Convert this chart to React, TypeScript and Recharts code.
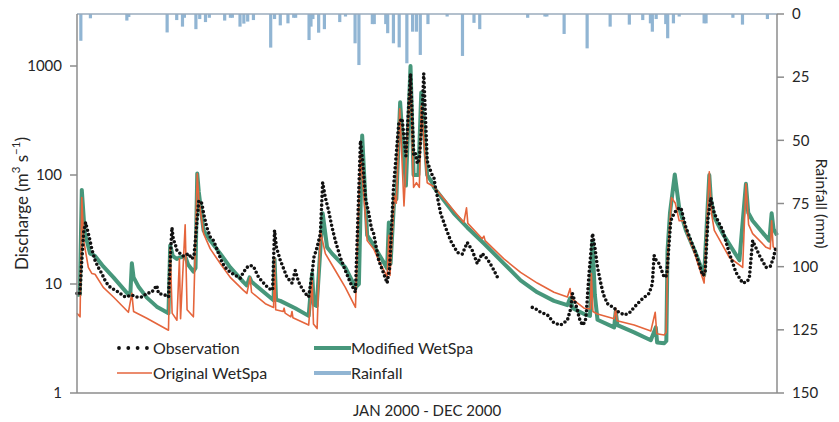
import React from 'react';
import { ComposedChart, Line, Bar, XAxis, YAxis, ReferenceLine } from 'recharts';

// Rainfall (mm) by day of year 2000
const rainDays = [2, 7, 26, 27, 47, 52, 55, 56, 62, 64, 67, 69, 77, 80, 81, 85, 87, 89, 92, 101, 103, 106, 110, 113, 114, 121, 122, 123, 126, 129, 137, 140, 145, 147, 154, 155, 161, 162, 165, 168, 172, 175, 177, 179, 183, 193, 201, 207, 210, 235, 244, 245, 254, 266, 278, 288, 295, 299, 300, 302, 307, 308, 311, 314, 327, 328, 342, 347, 360];
const rainMm = [10.6, 1.7, 2.6, 1.2, 7.3, 2.4, 5, 1.5, 6, 2, 3.2, 1.5, 2.6, 1.5, 1.5, 5, 3.8, 3, 2.4, 13.3, 2, 4.5, 3.7, 1.5, 1.5, 10.3, 5, 2, 7.4, 6, 3.2, 1, 11.6, 20.2, 4, 4, 4, 7.6, 11.6, 13.2, 19.5, 7, 7, 16.2, 4, 1, 16.6, 3.5, 6, 1.5, 1, 1, 7.9, 13.6, 5, 4.2, 2.4, 3.7, 7, 2, 4, 9.6, 3.7, 1, 3.7, 3.7, 1.5, 4.2, 2];

// Modified WetSpa discharge (m3/s)
const modDays = [0, 1.5, 2.5, 4, 6.8, 8.5, 9.5, 13.7, 19, 26.8, 27.8, 28.6, 29.5, 32, 36.4, 41.6, 47.7, 48.6, 50, 52, 53.4, 56.4, 58, 60.7, 61.8, 62.7, 63.5, 66, 69.5, 74.7, 79.9, 86.8, 88.6, 90, 91, 102.5, 103, 103.8, 106, 113.8, 120.8, 122.6, 123.5, 125, 128.1, 130.4, 133, 139.9, 145.2, 147, 148.7, 151.3, 154.7, 159.9, 161.7, 162.6, 163.5, 165.5, 166.5, 168.5, 169.5, 171.5, 173.9, 175.5, 178, 179.5, 182.6, 185.2, 186.1, 191.5, 196.5, 203.5, 212.2, 222.6, 231.3, 240, 248.7, 255.7, 257.1, 258.5, 264.4, 267.5, 268.8, 270, 271.4, 280.1, 280.9, 281.8, 290.5, 299.2, 301.8, 302.5, 306.2, 307.3, 307.9, 309.2, 311.7, 314, 317.5, 322.7, 327, 329.7, 330.5, 332.3, 336.7, 345.4, 348.8, 350, 352.3, 361, 362.2, 363.2, 365];
const modQ = [7.9, 8, 73, 30, 19, 18.5, 18, 14.5, 11.5, 8, 8, 15.5, 11.5, 9.5, 7.5, 6.2, 5.4, 22.6, 18, 17, 17.5, 18, 15, 13, 14, 103, 70, 31, 25, 19, 14.2, 10.4, 9.7, 11.5, 10.5, 7.1, 17, 7.2, 7.0, 6.0, 5.1, 12.5, 6.5, 6.3, 44.5, 21.7, 19, 14.2, 9.3, 10, 230, 28, 22.6, 15.8, 13.9, 36.7, 15.4, 65, 60, 464, 250, 80, 1000, 100, 100, 570, 100, 85, 77, 58, 44.5, 33, 23.5, 15.4, 10.8, 8.4, 7.0, 6.4, 7.4, 6.0, 5.3, 5.1, 25, 8, 4.7, 4.0, 5.6, 4.2, 3.6, 3.05, 4.0, 2.9, 2.86, 3.0, 20, 45, 101, 50, 31, 19, 12, 100, 60, 41, 29, 16.5, 83, 45, 38, 25, 44.5, 32, 28];

// Original WetSpa discharge (m3/s)
const origDays = [0, 1.6, 2.5, 3.5, 5.9, 7.7, 9.4, 13.7, 19, 26.8, 28.6, 29.5, 36.4, 47.7, 48.6, 49.6, 52.1, 53.4, 54, 56.4, 57.4, 60.7, 62.7, 63.5, 66, 69.5, 74.7, 79.9, 86.8, 88.6, 90.3, 91, 98.2, 102.5, 103, 103.6, 107.5, 108, 108.5, 111.5, 112.1, 112.6, 120.8, 122.6, 123.3, 125.2, 126.9, 128, 129.5, 134.7, 139.9, 145.2, 147.8, 150.5, 151.3, 154.7, 157.3, 160.8, 161.7, 162.6, 163.2, 165.5, 166.5, 168.3, 170.5, 173.9, 175.5, 177, 178.5, 179.5, 182.6, 186.1, 196.5, 201.7, 203.1, 203.8, 211.3, 212.2, 212.8, 222.6, 231.3, 240, 248.7, 255.7, 257.1, 257.8, 264.4, 267.7, 268.2, 269, 271.4, 280.1, 280.9, 281.6, 290.5, 299.2, 301.5, 302.3, 306.2, 307.2, 308, 310, 312, 314, 316.1, 318.7, 321, 324.4, 327, 329.7, 330.8, 332.3, 340.2, 347.1, 348.8, 350.2, 352.3, 359.3, 361.5, 362.2, 363, 365];
const origQ = [5.4, 5.0, 62, 25, 14.2, 12.5, 12.3, 9.3, 7.6, 5.5, 8.2, 5.6, 4.85, 3.77, 21, 5.4, 4.65, 17, 4.8, 35, 5.8, 5.0, 103, 60, 29, 21, 15.4, 11.5, 8.75, 8.2, 11.5, 8.4, 6.6, 6.1, 17.5, 5.8, 5.6, 6.0, 5.4, 5.0, 5.6, 4.9, 4.2, 10.8, 4.3, 3.9, 31, 25, 19, 13.3, 9.3, 6.1, 155, 40, 25, 21, 16.5, 12.5, 11.5, 28, 12, 65, 55, 405, 52, 810, 77, 85, 77, 430, 85, 78, 47, 36.7, 50, 36, 26, 27.5, 25, 17, 12.8, 10.2, 8.4, 7.6, 9.1, 7.4, 6.0, 5.9, 12.5, 5.6, 5.3, 4.8, 6.0, 4.6, 4.2, 3.7, 5.5, 3.5, 3.4, 3.6, 18, 62, 55, 38, 38, 27, 21.7, 14.2, 10.2, 107, 45, 31, 17.5, 14.2, 83, 35, 29, 21.7, 21, 38, 22, 20];

// Observation (m3/s): two recorded periods with a gap between
const obsDaysA = [0, 1.5, 2.5, 3.5, 4.5, 5.9, 6.8, 7.7, 9.4, 11.1, 12.9, 14.6, 16.3, 18.1, 20, 22.5, 25.1, 28.6, 31.2, 34, 36.4, 39, 41.6, 42.5, 46, 47.7, 48.6, 49.5, 50.3, 51, 52.1, 53.8, 55.5, 58.1, 59.9, 61, 62.7, 63.5, 65.1, 66, 67.7, 69.5, 71.2, 72.9, 75.6, 77.3, 79.9, 82.5, 85.1, 86.8, 88.6, 90.3, 92, 94.7, 97.3, 99.9, 102, 103, 104, 106, 107.7, 109.5, 112.1, 113.8, 115.5, 117.3, 119, 120.8, 122.6, 123.5, 125.2, 126.9, 128.1, 129.5, 131.2, 133, 134.7, 137.3, 139.9, 142.6, 145.2, 147.8, 149, 150.5, 152.1, 153.5, 154.7, 157.3, 159.9, 161.7, 163, 165, 167.8, 169.5, 171.5, 173.9, 175.6, 176.5, 177.5, 178.5, 179.8, 180.8, 182.6, 183.4, 184.3, 185.2, 186.1, 186.9, 188, 189.6, 192.2, 194.8, 198.3, 200.9, 203.5, 206.1, 208.7, 211.3, 213.9, 216.6, 219.5];
const obsQA = [8.2, 8.0, 16.5, 30, 36.7, 29, 25, 21, 16.5, 14.2, 12.5, 10.8, 9.7, 9.1, 8.8, 8.2, 7.6, 7.9, 7.6, 7.6, 8.2, 8.4, 9.7, 8.2, 7.9, 7.6, 16.5, 33, 25, 24, 20.3, 19, 18, 19, 17, 18, 40, 58, 55, 44.5, 33, 27, 25, 21, 15.8, 14.2, 12.8, 12, 11.3, 12.8, 14.2, 14.8, 14.5, 11.5, 10.2, 9.1, 8.8, 31, 21.7, 16.5, 13.9, 11.5, 10.2, 13.3, 10.5, 9.1, 8.2, 7.6, 12.5, 17.5, 21.7, 29, 85, 62, 47, 33, 25, 17.5, 13.3, 10.2, 8.4, 206, 130, 60, 45, 32.5, 29, 16.5, 12.5, 10.2, 14, 75, 300, 330, 150, 850, 150, 157, 127, 140, 300, 850, 135, 122, 110, 100, 95, 77, 62, 44.5, 33, 25, 19.5, 18.8, 24, 20.3, 15.4, 19, 17, 14.2, 11.3];
const obsDaysB = [237.4, 240, 241.8, 245.3, 248.7, 252.2, 255.7, 257.5, 258.3, 259.5, 260.9, 262, 263.5, 265, 265.6, 267, 268.8, 270, 271.4, 273.1, 274.5, 276.6, 280.1, 282, 285.3, 287.9, 290.5, 294, 298.3, 300, 300.9, 302, 303.5, 306.2, 307.5, 309.6, 311.5, 313.2, 314.9, 317.5, 322.7, 326.2, 327.5, 329, 330.5, 332.3, 336.7, 340.2, 343.6, 347.1, 349.5, 350.6, 352.3, 355.8, 359.3, 361.5, 363, 364.5];
const obsQB = [6.1, 5.8, 5.5, 5.2, 4.4, 4.2, 4.65, 6, 8.2, 7, 5.75, 4.8, 4.2, 4.5, 5.5, 12.5, 29, 22, 14.2, 10.2, 8, 6.6, 6, 5.6, 5.2, 5.4, 6.1, 7.1, 8.2, 10, 18.3, 16.5, 15.4, 11.5, 12, 38, 45, 49, 50, 33, 19, 12, 12.5, 40, 62, 44.5, 31, 19, 12.8, 10.2, 10.5, 11.5, 25, 18.3, 14.2, 14.5, 17, 22];

const qTicks = [1, 10, 100, 1000];
const rainTicks = [0, 25, 50, 75, 100, 125, 150];

type Row = { day: number; rain?: number; mod?: number; orig?: number; obsA?: number; obsB?: number };

function buildRows(): Row[] {
  const map = new Map<number, Row>();
  const put = (days: number[], vals: number[], key: keyof Row) => {
    days.forEach((d, i) => {
      let r = map.get(d);
      if (!r) {
        r = { day: d };
        map.set(d, r);
      }
      (r as any)[key] = vals[i];
    });
  };
  put(rainDays, rainMm, 'rain');
  put(modDays, modQ, 'mod');
  put(origDays, origQ, 'orig');
  put(obsDaysA, obsQA, 'obsA');
  put(obsDaysB, obsQB, 'obsB');
  return Array.from(map.values()).sort((a, b) => a.day - b.day);
}

const rows = buildRows();

const FONT = 'Lato, "Open Sans", sans-serif';
const GREEN = '#47977b';
const ORANGE = '#e5653c';
const BLUE = '#91b5d3';
const AXIS = '#8c8c8c';
const TEXT = '#262626';

// daily rainfall bar, fixed width centred on the day
const RainBar = (props: any) => {
  const { x, y, width, height, fill } = props;
  if (x == null || y == null || !height) return null;
  const cx = x + (width || 0) / 2;
  const h = Math.abs(height);
  const top = height < 0 ? y + height : y;
  return <rect x={cx - 1.6} y={top} width={3.2} height={h} fill={fill} />;
};

const DischargeLabel = (props: any) => {
  const vb = props.viewBox || {};
  const cx = (vb.x || 0) + 13;
  const cy = (vb.y || 0) + (vb.height || 0) / 2;
  return (
    <text x={cx} y={cy} transform={`rotate(-90, ${cx}, ${cy})`} textAnchor="middle" dominantBaseline="central" fill={TEXT} fontSize={17} fontFamily={FONT}>
      Discharge (m
      <tspan fontSize={11.5} dy={-6}>3</tspan>
      <tspan dy={6}> s</tspan>
      <tspan fontSize={11.5} dy={-6}>−1</tspan>
      <tspan dy={6}>)</tspan>
    </text>
  );
};

const legendText: React.CSSProperties = { fontFamily: FONT, fontSize: 16, color: TEXT, position: 'absolute', lineHeight: '18px', whiteSpace: 'nowrap' };

function LegendBox() {
  return (
    <div style={{ position: 'absolute', left: 0, top: 0, pointerEvents: 'none' }}>
      <svg style={{ position: 'absolute', left: 108, top: 334 }} width={40} height={12}>
        {[0, 1, 2, 3].map((i) => (
          <circle key={i} cx={3 + i * 9.3} cy={6} r={1.9} fill="#111" />
        ))}
      </svg>
      <div style={{ ...legendText, left: 145, top: 331 }}>Observation</div>
      <svg style={{ position: 'absolute', left: 109, top: 359 }} width={36} height={12}>
        <line x1={0} y1={6} x2={35} y2={6} stroke={ORANGE} strokeWidth={1.6} />
      </svg>
      <div style={{ ...legendText, left: 145, top: 356 }}>Original WetSpa</div>
      <svg style={{ position: 'absolute', left: 306, top: 334 }} width={38} height={12}>
        <line x1={0} y1={6} x2={37} y2={6} stroke={GREEN} strokeWidth={4} />
      </svg>
      <div style={{ ...legendText, left: 343, top: 331 }}>Modified WetSpa</div>
      <svg style={{ position: 'absolute', left: 306, top: 359 }} width={38} height={12}>
        <line x1={0} y1={6} x2={37} y2={6} stroke={BLUE} strokeWidth={4} />
      </svg>
      <div style={{ ...legendText, left: 343, top: 356 }}>Rainfall</div>
    </div>
  );
}

export default function App() {
  return (
    <div style={{ position: 'relative', width: 823, height: 414, background: '#fff' }}>
      <style>{`.recharts-surface { overflow: visible; }`}</style>
      <ComposedChart width={823} height={414} data={rows} margin={{ top: 6, right: 0, bottom: 0, left: 0 }}>
        <XAxis
          dataKey="day"
          type="number"
          domain={[0, 365]}
          tick={false}
          tickLine={false}
          axisLine={{ stroke: AXIS, strokeWidth: 1.5 }}
          height={29}
          label={{ value: 'JAN 2000 - DEC 2000', position: 'insideBottom', offset: 6, fill: TEXT, fontSize: 15, fontFamily: FONT }}
        />
        <YAxis
          yAxisId="q"
          scale="log"
          domain={[1, 3000]}
          allowDataOverflow
          ticks={qTicks}
          interval={0}
          width={69}
          tickSize={7}
          tickMargin={8}
          axisLine={{ stroke: AXIS, strokeWidth: 1.5 }}
          tickLine={{ stroke: AXIS, strokeWidth: 1.5 }}
          tick={{ fill: TEXT, fontSize: 15, fontFamily: FONT }}
          label={<DischargeLabel />}
        />
        <YAxis
          yAxisId="rain"
          orientation="right"
          domain={[0, 150]}
          reversed
          ticks={rainTicks}
          interval={0}
          width={54}
          tickSize={7}
          tickMargin={8}
          axisLine={{ stroke: AXIS, strokeWidth: 1.5 }}
          tickLine={{ stroke: AXIS, strokeWidth: 1.5 }}
          tick={{ fill: TEXT, fontSize: 15, fontFamily: FONT, textAnchor: 'start' }}
          label={{ value: 'Rainfall (mm)', angle: 90, position: 'insideRight', offset: 9, fill: TEXT, fontSize: 16, fontFamily: FONT, style: { textAnchor: 'middle' } }}
        />
        <Bar yAxisId="rain" dataKey="rain" fill={BLUE} shape={RainBar} isAnimationActive={false} />
        <ReferenceLine yAxisId="rain" y={0} stroke="#9aabbd" strokeWidth={1.5} />
        <Line yAxisId="q" dataKey="mod" type="linear" stroke={GREEN} strokeWidth={4} dot={false} connectNulls isAnimationActive={false} strokeLinejoin="round" />
        <Line yAxisId="q" dataKey="orig" type="linear" stroke={ORANGE} strokeWidth={1.6} dot={false} connectNulls isAnimationActive={false} strokeLinejoin="round" />
        <Line yAxisId="q" dataKey="obsA" type="linear" stroke="#111" strokeWidth={3.6} strokeDasharray="0 4.4" strokeLinecap="round" dot={false} connectNulls isAnimationActive={false} />
        <Line yAxisId="q" dataKey="obsB" type="linear" stroke="#111" strokeWidth={3.6} strokeDasharray="0 4.4" strokeLinecap="round" dot={false} connectNulls isAnimationActive={false} />
      </ComposedChart>
      <LegendBox />
    </div>
  );
}
